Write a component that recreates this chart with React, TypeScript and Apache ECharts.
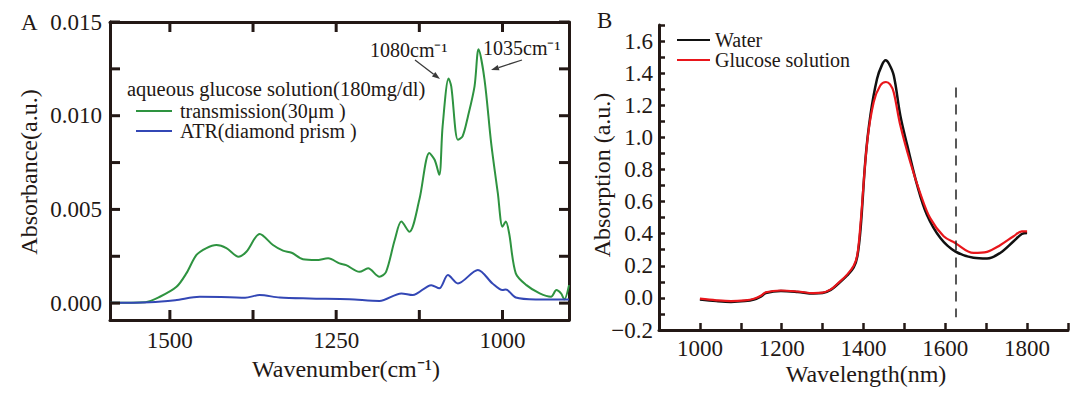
import React, { useEffect, useRef } from "react";
import * as echarts from "echarts";

// ---------- Panel A data (wavenumber cm^-1, absorbance) ----------
const transWavenumber = [1590, 1537, 1515, 1490, 1475, 1460, 1445, 1430, 1415, 1397, 1385, 1365, 1345, 1330, 1317, 1300, 1280, 1262, 1245, 1235, 1215, 1202, 1185, 1175, 1162, 1152, 1140, 1125, 1110, 1102, 1095, 1090, 1081, 1077, 1067, 1060, 1052, 1042, 1036, 1027, 1017, 1007, 1000, 995, 990, 980, 964, 944, 927, 919, 912, 907, 900];
const transAbs = [0.00002, 0.00005, 0.00034, 0.00087, 0.0016, 0.00257, 0.00294, 0.0031, 0.00294, 0.00248, 0.00274, 0.00369, 0.0031, 0.0028, 0.00269, 0.00234, 0.0023, 0.00239, 0.00212, 0.00203, 0.00167, 0.00186, 0.00141, 0.00167, 0.00337, 0.00435, 0.00381, 0.00551, 0.00801, 0.00765, 0.00685, 0.00943, 0.01198, 0.01157, 0.00872, 0.0089, 0.00995, 0.01157, 0.01354, 0.01193, 0.00854, 0.00587, 0.00408, 0.00435, 0.00373, 0.00159, 0.00096, 0.00052, 0.00034, 0.0007, 0.00052, 0.0002, 0.00096];
const atrWavenumber = [1590, 1530, 1492, 1455, 1410, 1387, 1365, 1335, 1290, 1230, 1185, 1152, 1135, 1107, 1095, 1082, 1067, 1037, 1015, 1000, 995, 980, 950, 905, 900];
const atrAbs = [0.00002, 0.00005, 0.00016, 0.00034, 0.00032, 0.00029, 0.00043, 0.0003, 0.00025, 0.00021, 0.00012, 0.00052, 0.00043, 0.00096, 0.00079, 0.0015, 0.00105, 0.00177, 0.00105, 0.0007, 0.00073, 0.0003, 0.0002, 0.0002, 0.0002];

const aXMin = 900;
const aXMax = 1590;
const aYMin = -0.0009;
const aYMax = 0.015;
const aXTicks = [1000, 1125, 1250, 1375, 1500];
const aXLabels = [1000, 1250, 1500];
const aYTicks = [0, 0.0025, 0.005, 0.0075, 0.01, 0.0125, 0.015];
const aYLabels = [0, 0.005, 0.01, 0.015];

// ---------- Panel B data (wavelength nm, absorption) ----------
const waterWl = [1000, 1040, 1076, 1110, 1132, 1150, 1161, 1198, 1239, 1278, 1300, 1320, 1337, 1360, 1376, 1385, 1393, 1405, 1417, 1433, 1445, 1454, 1462, 1474, 1490, 1507, 1531, 1555, 1588, 1624, 1669, 1702, 1734, 1767, 1787, 1800];
const waterAbs = [-0.01, -0.02, -0.025, -0.02, -0.01, 0.01, 0.03, 0.043, 0.037, 0.027, 0.03, 0.05, 0.085, 0.14, 0.19, 0.26, 0.435, 0.87, 1.14, 1.364, 1.45, 1.48, 1.46, 1.385, 1.137, 0.95, 0.704, 0.518, 0.373, 0.29, 0.25, 0.245, 0.28, 0.353, 0.398, 0.404];
const glucoseWl = [1000, 1040, 1076, 1110, 1132, 1150, 1161, 1198, 1239, 1278, 1300, 1320, 1337, 1360, 1376, 1385, 1393, 1409, 1425, 1441, 1455, 1465, 1474, 1490, 1515, 1539, 1563, 1596, 1624, 1669, 1702, 1734, 1767, 1787, 1800];
const glucoseAbs = [-0.005, -0.015, -0.02, -0.015, -0.005, 0.015, 0.035, 0.046, 0.04, 0.03, 0.033, 0.053, 0.09, 0.145, 0.2, 0.27, 0.47, 0.97, 1.22, 1.323, 1.345, 1.33, 1.28, 1.075, 0.84, 0.65, 0.497, 0.384, 0.342, 0.28, 0.287, 0.328, 0.384, 0.415, 0.415];

const dashedWl = 1625;
const dashedTop = 1.31;
const dashedBottom = -0.12;

const FONT = "'Liberation Serif', 'Times New Roman', serif";
const INK = "#231815";

const GA = { left: 110, top: 22, width: 459, height: 298 };
const TICK_PX = 10;

const zip = (xs: number[], ys: number[]) => xs.map((x, i) => [x, ys[i]]);

export default function App() {
  const ref = useRef<HTMLDivElement>(null);
  useEffect(() => {
    if (!ref.current) return;
    const chart = echarts.init(ref.current, undefined, { renderer: "svg" });
    const axisLine = { show: true, onZero: false, lineStyle: { color: INK, width: 3 } };
    const labelStyle = { fontFamily: FONT, fontSize: 23, color: INK };
    const textStyle = (text: string, x: number, y: number, size: number, align = "left", extra: any = {}) => ({
      type: "text",
      x,
      y,
      ...extra,
      style: { text, fontFamily: FONT, fontSize: size, fill: INK, textAlign: align, textVerticalAlign: "middle" },
    });
    const arrow = (x1: number, y1: number, x2: number, y2: number) => {
      const dx = x2 - x1, dy = y2 - y1;
      const len = Math.hypot(dx, dy);
      const ux = dx / len, uy = dy / len;
      const bx = x2 - ux * 8, by = y2 - uy * 8;
      const px = -uy * 2.8, py = ux * 2.8;
      return [
        { type: "line", shape: { x1, y1, x2: bx, y2: by }, style: { stroke: "#3a3a3a", lineWidth: 1.3 } },
        { type: "polygon", shape: { points: [[x2, y2], [bx + px, by + py], [bx - px, by - py]] }, style: { fill: "#3a3a3a" } },
      ];
    };

    chart.setOption({
      animation: false,
      backgroundColor: "#fff",
      grid: [
        { ...GA },
        { left: 659, top: 25, width: 409, height: 305 },
      ],
      xAxis: [
        {
          gridIndex: 0, type: "value", position: "bottom", inverse: true, min: aXMin, max: aXMax,
          axisLine, splitLine: { show: false }, axisTick: { show: false },
          axisLabel: { ...labelStyle, margin: 9, customValues: aXLabels, formatter: (v: number) => String(v) },
        },
        {
          gridIndex: 0, type: "value", position: "top", inverse: true, min: aXMin, max: aXMax,
          axisLine, splitLine: { show: false }, axisTick: { show: false }, axisLabel: { show: false },
        },
        {
          gridIndex: 1, type: "value", min: 900, max: 1900, interval: 100,
          axisLine, splitLine: { show: false },
          axisTick: { inside: true, length: 7, lineStyle: { color: INK, width: 2.5 } },
          axisLabel: { ...labelStyle, margin: 7, formatter: (v: number) => (v % 200 === 0 ? String(v) : "") },
        },
      ],
      yAxis: [
        {
          gridIndex: 0, type: "value", position: "left", min: aYMin, max: aYMax,
          axisLine, splitLine: { show: false }, axisTick: { show: false },
          axisLabel: { ...labelStyle, margin: 8, customValues: aYLabels, formatter: (v: number) => v.toFixed(3) },
        },
        {
          gridIndex: 0, type: "value", position: "right", min: aYMin, max: aYMax,
          axisLine, splitLine: { show: false }, axisTick: { show: false }, axisLabel: { show: false },
        },
        {
          gridIndex: 1, type: "value", min: -0.2, max: 1.7, interval: 0.1,
          axisLine, splitLine: { show: false },
          axisTick: { inside: true, length: 6, lineStyle: { color: INK, width: 2.5 } },
          axisLabel: {
            ...labelStyle, margin: 6,
            formatter: (v: number) => {
              const k = Math.round(v * 10);
              if (k % 2 !== 0) return "";
              const s = (Math.abs(k) / 10).toFixed(1);
              return k < 0 ? "\u2212" + s : s;
            },
          },
        },
      ],
      legend: [
        {
          data: ["transmission(30μm )", "ATR(diamond prism )"],
          orient: "vertical", left: 131, top: 96, icon: "rect", itemWidth: 36, itemHeight: 2, itemGap: 0,
          textStyle: { fontFamily: FONT, fontSize: 20, lineHeight: 20, color: INK, padding: [0, 0, 0, 3] },
        },
        {
          data: ["Water", "Glucose solution"],
          orient: "vertical", left: 672, top: 25, icon: "rect", itemWidth: 33, itemHeight: 2, itemGap: 0,
          textStyle: { fontFamily: FONT, fontSize: 20, lineHeight: 20, color: INK },
        },
      ],
      series: [
        {
          name: "transmission(30μm )", type: "line", xAxisIndex: 0, yAxisIndex: 0,
          data: zip(transWavenumber, transAbs), showSymbol: false, smooth: 0.3,
          lineStyle: { color: "#2e9340", width: 2 }, itemStyle: { color: "#2e9340" },
        },
        {
          name: "ATR(diamond prism )", type: "line", xAxisIndex: 0, yAxisIndex: 0,
          data: zip(atrWavenumber, atrAbs), showSymbol: false, smooth: 0.3,
          lineStyle: { color: "#3347b5", width: 2 }, itemStyle: { color: "#3347b5" },
        },
        {
          name: "Water", type: "line", xAxisIndex: 2, yAxisIndex: 2,
          data: zip(waterWl, waterAbs), showSymbol: false, smooth: 0.35,
          lineStyle: { color: "#111111", width: 2.5 }, itemStyle: { color: "#111111" },
          markLine: {
            silent: true, symbol: ["none", "none"], label: { show: false },
            lineStyle: { type: [10, 7], color: "#222", width: 1.5 },
            data: [[{ coord: [dashedWl, dashedTop] }, { coord: [dashedWl, dashedBottom] }]],
          },
        },
        {
          name: "Glucose solution", type: "line", xAxisIndex: 2, yAxisIndex: 2,
          data: zip(glucoseWl, glucoseAbs), showSymbol: false, smooth: 0.35,
          lineStyle: { color: "#e8161b", width: 2.2 }, itemStyle: { color: "#e8161b" },
        },
      ],
    });

    // Panel A inward ticks on all four sides, positioned through the axes' scales
    const num = (r: any) => (Array.isArray(r) ? Number(r[0]) : Number(r));
    const px = (v: number) => {
      const r = num(chart.convertToPixel({ xAxisIndex: 0 }, v));
      return Number.isFinite(r) ? r : GA.left + ((aXMax - v) / (aXMax - aXMin)) * GA.width;
    };
    const py = (v: number) => {
      const r = num(chart.convertToPixel({ yAxisIndex: 0 }, v));
      return Number.isFinite(r) ? r : GA.top + ((aYMax - v) / (aYMax - aYMin)) * GA.height;
    };
    const yBottom = py(aYMin), yTop = py(aYMax);
    const xLeft = px(aXMax), xRight = px(aXMin);
    const tickStyle = { stroke: INK, lineWidth: 3 };
    const ticks: any[] = [];
    aXTicks.forEach((v) => {
      const x = px(v);
      ticks.push({ type: "line", z: 50, shape: { x1: x, y1: yBottom, x2: x, y2: yBottom - TICK_PX }, style: tickStyle });
      ticks.push({ type: "line", z: 50, shape: { x1: x, y1: yTop, x2: x, y2: yTop + TICK_PX }, style: tickStyle });
    });
    aYTicks.forEach((v) => {
      const y = py(v);
      ticks.push({ type: "line", z: 50, shape: { x1: xLeft, y1: y, x2: xLeft + TICK_PX, y2: y }, style: tickStyle });
      ticks.push({ type: "line", z: 50, shape: { x1: xRight, y1: y, x2: xRight - TICK_PX, y2: y }, style: tickStyle });
    });

    chart.setOption({
      graphic: [
        textStyle("A", 21, 22, 23),
        textStyle("B", 597, 20, 23),
        textStyle("Absorbance(a.u.)", 29, 172, 24, "center", { rotation: Math.PI / 2 }),
        textStyle("Wavenumber(cm⁻¹)", 346, 369, 24, "center"),
        textStyle("Absorption (a.u.)", 602, 175, 24, "center", { rotation: Math.PI / 2 }),
        textStyle("Wavelength(nm)", 866, 374, 24, "center"),
        textStyle("aqueous glucose solution(180mg/dl)", 127, 89, 20.5),
        textStyle("1080cm⁻¹", 370, 50, 20),
        textStyle("1035cm⁻¹", 483, 48, 20),
        ...arrow(415, 60, 440, 79),
        ...arrow(522, 60, 491, 70),
        ...ticks,
      ],
    });
    return () => chart.dispose();
  }, []);
  return (
    <div
      ref={ref}
      style={{ position: "fixed", left: 0, top: 0, width: 1080, height: 401, background: "#fff" }}
    />
  );
}
